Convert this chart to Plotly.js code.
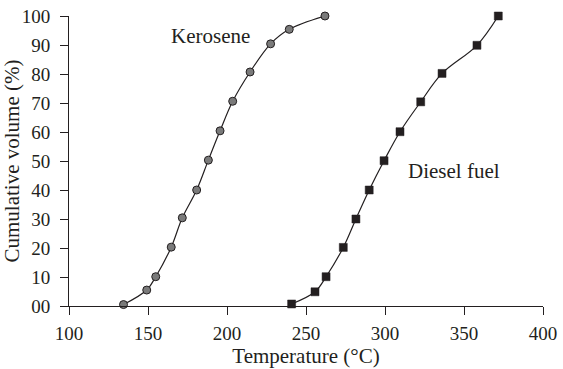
<!DOCTYPE html>
<html><head><meta charset="utf-8">
<script src="https://cdn.plot.ly/plotly-3.0.1.min.js"></script>
<style>html,body{margin:0;padding:0;background:#fff}#chart{width:563px;height:369px}</style>
</head><body><div id="chart"></div>
<script>
const keroseneT = [134.5, 149.2, 154.9, 164.7, 171.7, 180.8, 188.2, 195.6, 203.6, 214.6, 227.6, 239.4, 262];
const keroseneV = [0.5, 5.5, 10.1, 20.3, 30.4, 40, 50.3, 60.4, 70.6, 80.7, 90.4, 95.4, 100];
const dieselT = [240.9, 255.7, 262.7, 273.6, 281.6, 290, 299.4, 309.5, 322.6, 336.1, 358.2, 371.7];
const dieselV = [0.7, 4.9, 10.1, 20.2, 30, 40, 50.1, 60.1, 70.4, 80.2, 89.9, 100];
const xTicks = [100, 150, 200, 250, 300, 350, 400];
const yTicks = [0, 10, 20, 30, 40, 50, 60, 70, 80, 90, 100];
const yTickText = ['00', '10', '20', '30', '40', '50', '60', '70', '80', '90', '100'];
const seriesNames = ['Kerosene', 'Diesel fuel'];

const fam = 'Liberation Serif, Times New Roman, serif';
const tickFont = {family: fam, size: 19, color: '#231f20'};
const textFont = {family: fam, size: 21, color: '#231f20'};

const traces = [
  {x: keroseneT, y: keroseneV, mode: 'lines+markers', name: seriesNames[0],
   line: {shape: 'spline', color: '#231f20', width: 1.2},
   marker: {symbol: 'circle', size: 8, color: '#7a7a7a', line: {color: '#231f20', width: 1}},
   cliponaxis: false},
  {x: dieselT, y: dieselV, mode: 'lines+markers', name: seriesNames[1],
   line: {shape: 'spline', color: '#231f20', width: 1.2},
   marker: {symbol: 'square', size: 8, color: '#231f20', line: {color: '#231f20', width: 0.5}},
   cliponaxis: false}
];

const layout = {
  width: 563, height: 369,
  margin: {l: 69, r: 20, t: 16, b: 63},
  paper_bgcolor: '#fff', plot_bgcolor: '#fff',
  showlegend: false,
  font: tickFont,
  xaxis: {range: [100, 400], tickvals: xTicks, ticks: 'outside', ticklen: 8, tickcolor: '#231f20',
    showline: true, linecolor: '#231f20', linewidth: 1, showgrid: false, zeroline: false,
    tickfont: tickFont, ticklabelstandoff: 2,
    title: {text: 'Temperature (°C)', font: textFont, standoff: 2}},
  yaxis: {range: [0, 100], tickvals: yTicks, ticktext: yTickText, ticks: 'outside', ticklen: 8, tickcolor: '#231f20',
    showline: true, linecolor: '#231f20', linewidth: 1, showgrid: false, zeroline: false,
    tickfont: tickFont, ticklabelstandoff: 6,
    title: {text: 'Cumulative volume (%)', font: textFont, standoff: 4}},
  annotations: [
    {x: 168, y: 34, xref: 'paper', yref: 'paper', text: seriesNames[0], showarrow: false, font: textFont,
     xanchor: 'left', yanchor: 'middle', xshift: 0},
    {x: 0, y: 0, xref: 'paper', yref: 'paper', text: seriesNames[1], showarrow: false, font: textFont,
     xanchor: 'left', yanchor: 'middle'}
  ]
};
// annotation positions in data coords
layout.annotations[0] = {x: 163, y: 93, xref: 'x', yref: 'y', text: seriesNames[0], showarrow: false, font: textFont, xanchor: 'left', yanchor: 'middle'};
layout.annotations[1] = {x: 313.5, y: 46.5, xref: 'x', yref: 'y', text: seriesNames[1], showarrow: false, font: textFont, xanchor: 'left', yanchor: 'middle'};
Plotly.newPlot('chart', traces, layout, {displayModeBar: false, staticPlot: true});
</script></body></html>
